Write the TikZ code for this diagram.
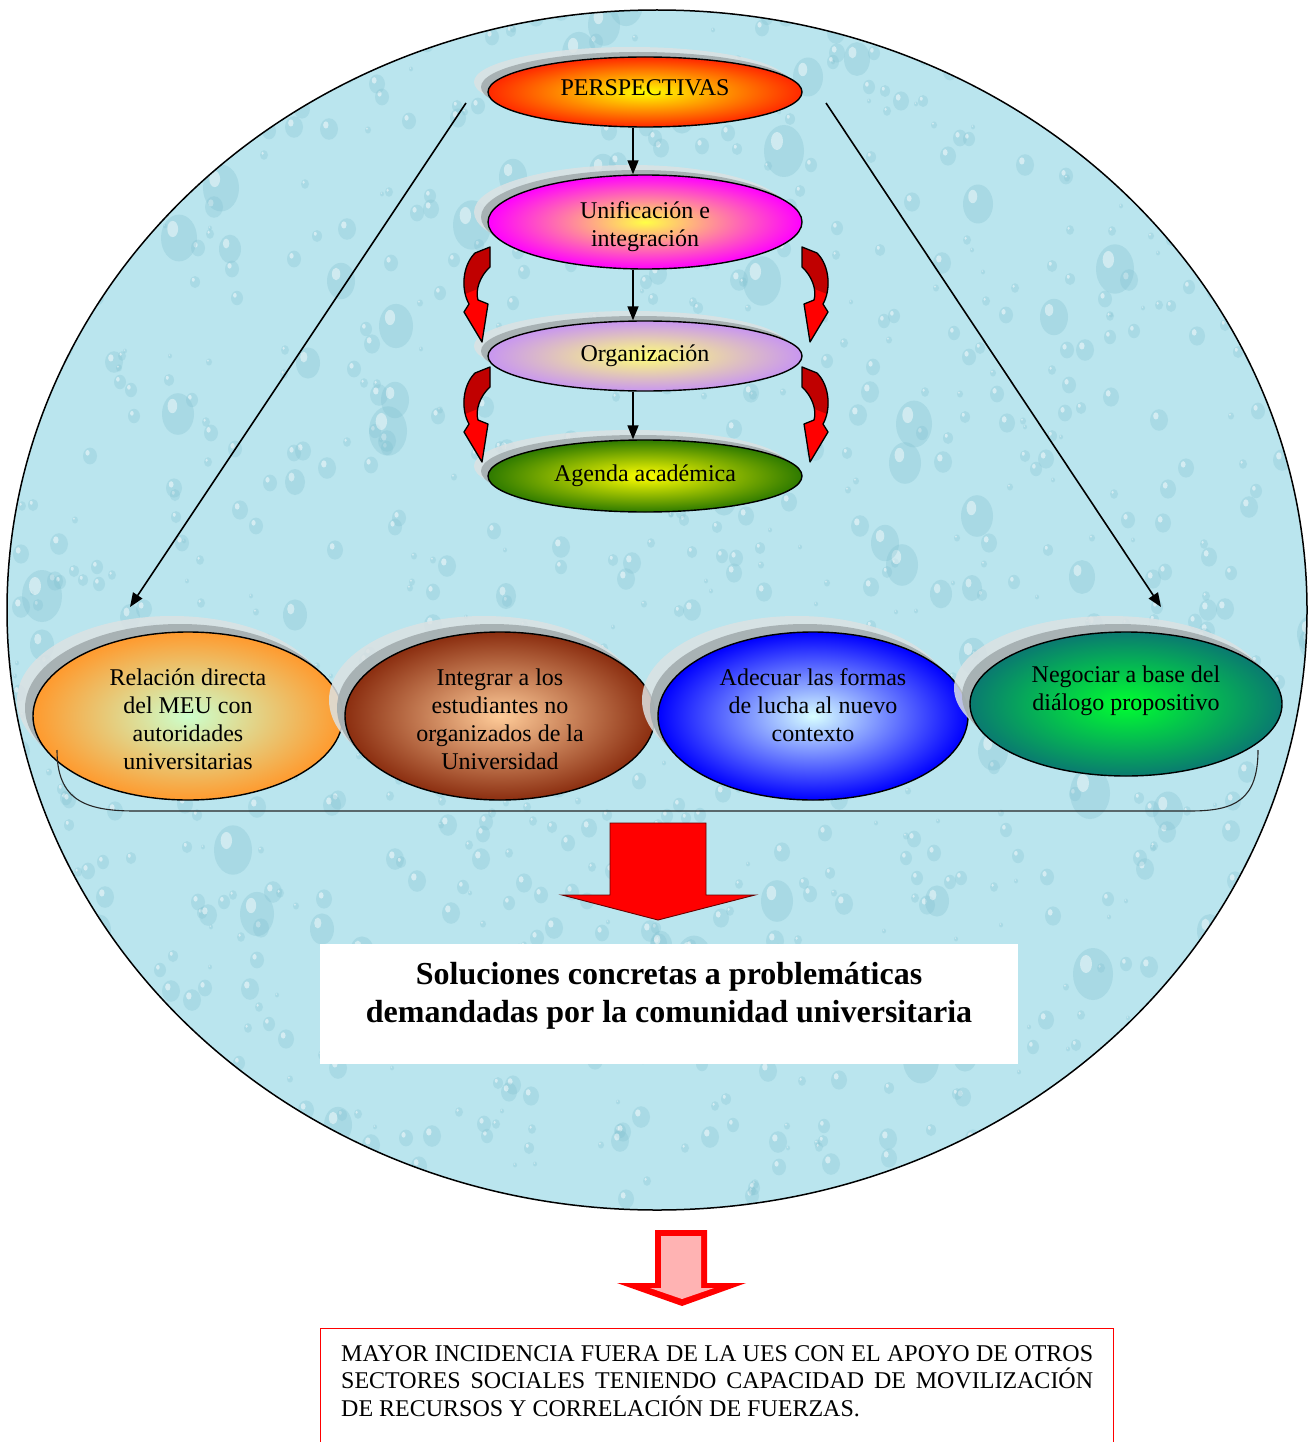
\documentclass[tikz,border=0pt]{standalone}
\usepackage{fontspec}
\setmainfont{Liberation Serif}
\usetikzlibrary{shapes.geometric,arrows.meta}
\definecolor{bgcyan}{HTML}{BAE5EE}
\definecolor{dropc}{HTML}{7FBFCF}
\definecolor{rimlight}{HTML}{DCE2E3}
\definecolor{rimdark}{HTML}{A3ADAF}
\definecolor{darkred}{HTML}{C00000}
\definecolor{pinkfill}{HTML}{FFB3B3}
\newcommand\rims[6]{%
  \fill[rimlight, opacity=.85] (#1-2*#5,#2-2*#6) ellipse [x radius=#3, y radius=#4];
  \fill[rimdark, opacity=.9] (#1-#5,#2-#6) ellipse [x radius=#3, y radius=#4];}
\newcommand\redcurve[1]{%
  \begin{scope}[#1]
    \fill[red] (475,253) -- (490,247) -- (490,267) .. controls (480,276) and (475,290) .. (478,300) -- (488,304) -- (482,342) -- (464,312) -- (469,304) .. controls (461,290) and (462,266) .. (475,253) -- cycle;
    \begin{scope}
      \clip (475,253) -- (490,247) -- (490,267) .. controls (480,276) and (475,290) .. (478,300) -- (488,304) -- (482,342) -- (464,312) -- (469,304) .. controls (461,290) and (462,266) .. (475,253) -- cycle;
      \fill[darkred] (455,240) -- (500,240) -- (500,280) -- (455,298) -- cycle;
    \end{scope}
    \draw[line width=1.3pt, line join=round] (475,253) -- (490,247) -- (490,267) .. controls (480,276) and (475,290) .. (478,300) -- (488,304) -- (482,342) -- (464,312) -- (469,304) .. controls (461,290) and (462,266) .. (475,253) -- cycle;
  \end{scope}}
\newcommand\tp[1]{\rule{0pt}{#1pt}}
\newcommand\bt[1]{\rule[-#1pt]{0pt}{#1pt}}
\begin{document}
\begin{tikzpicture}[x=1pt,y=-1pt,
  oval/.style={ellipse, draw, line width=1.4pt, inner sep=0pt, align=center,
    font=\fontsize{24}{28}\selectfont},
  arr/.style={line width=1.6pt, -{Triangle[length=14pt,width=11pt]}},
]
\useasboundingbox (0,0) rectangle (1312,1442);
% background disc with drops
\begin{scope}
  \clip (657,610) ellipse [x radius=650, y radius=600];
  \fill[bgcyan] (0,0) rectangle (1312,1220);
  \pgfmathsetseed{7}
  \foreach \i in {1,...,1000}{
    \pgfmathsetmacro\dx{random(0,1312)}
    \pgfmathsetmacro\dy{random(0,1215)}
    \pgfmathsetmacro\dr{random(2,9)}
    \fill[dropc, opacity=0.28] (\dx,\dy) ellipse [x radius=\dr, y radius=1.2*\dr];
    \fill[white, opacity=0.5] (\dx-0.35*\dr,\dy-0.45*\dr) ellipse [x radius=0.3*\dr, y radius=0.4*\dr];
  }
  \foreach \i in {1,...,90}{
    \pgfmathsetmacro\dx{random(0,1312)}
    \pgfmathsetmacro\dy{random(0,1215)}
    \pgfmathsetmacro\dr{random(10,20)}
    \fill[dropc, opacity=0.3] (\dx,\dy) ellipse [x radius=\dr, y radius=1.3*\dr];
    \fill[white, opacity=0.45] (\dx-0.35*\dr,\dy-0.5*\dr) ellipse [x radius=0.3*\dr, y radius=0.45*\dr];
  }
\end{scope}
\draw[line width=1.5pt] (657,610) ellipse [x radius=650, y radius=600];

% diagonal arrows
\coordinate (dl0) at (466,103);
\coordinate (dl1) at (130,607);
\coordinate (dr0) at (826,103);
\coordinate (dr1) at (1161,607);
\draw[arr] (dl0) -- (dl1);
\draw[arr] (dr0) -- (dr1);

% top stack
\rims{645}{92}{157}{35}{7}{5}
\node[oval, minimum width=314pt, minimum height=70pt, inner color=yellow,
  outer color={rgb,255:red,255;green,40;blue,0}] (persp) at (645,92) {PERSPECTIVAS\bt{8}};
\rims{645}{222}{157}{47}{7}{5}
\node[oval, minimum width=314pt, minimum height=94pt, inner color={rgb,255:red,255;green,255;blue,70},
  outer color={rgb,255:red,255;green,0;blue,255}] (unif) at (645,222) {\tp{26}Unificación e\\integración\bt{5}};
\rims{645}{356}{157}{35}{7}{5}
\node[oval, minimum width=314pt, minimum height=70pt, inner color={rgb,255:red,255;green,255;blue,120},
  outer color={rgb,255:red,200;green,150;blue,240}] (org) at (645,356) {Organización};
\rims{645}{476}{157}{36}{7}{5}
\node[oval, minimum width=314pt, minimum height=72pt, inner color=yellow,
  outer color={rgb,255:red,46;green,122;blue,0}] (agenda) at (645,476) {Agenda académica};

\draw[arr] ([xshift=-12pt]persp.south) -- ([xshift=-12pt]unif.north);
\draw[arr] ([xshift=-12pt]unif.south) -- ([xshift=-12pt]org.north);
\draw[arr] ([xshift=-12pt]org.south) -- ([xshift=-12pt]agenda.north);

% red curved arrows
\redcurve{}
\redcurve{shift={(0,120)}}
\redcurve{xshift=1292pt, xscale=-1}
\redcurve{shift={(0,120)}, xshift=1292pt, xscale=-1}

% bottom row
\rims{188}{716}{155}{84}{8}{8}
\node[oval, minimum width=310pt, minimum height=168pt, inner color={rgb,255:red,204;green,255;blue,204},
  outer color={rgb,255:red,255;green,154;blue,46}] (o1) at (188,716) {\tp{26}Relación directa\\del MEU con\\autoridades\\universitarias\bt{4}};
\rims{500}{716}{155}{84}{8}{8}
\node[oval, minimum width=310pt, minimum height=168pt, inner color={rgb,255:red,255;green,204;blue,153},
  outer color={rgb,255:red,139;green,46;blue,16}] (o2) at (500,716) {\tp{26}Integrar a los\\estudiantes no\\organizados de la\\Universidad\bt{4}};
\rims{813}{716}{155}{84}{8}{8}
\node[oval, minimum width=310pt, minimum height=168pt, inner color={rgb,255:red,216;green,255;blue,255},
  outer color={rgb,255:red,0;green,0;blue,255}] (o3) at (813,716) {\tp{17}Adecuar las formas\\de lucha al nuevo\\contexto\bt{23}};
\rims{1126}{704}{156}{72}{8}{8}
\node[oval, minimum width=312pt, minimum height=144pt, inner color={rgb,255:red,0;green,255;blue,48},
  outer color={rgb,255:red,10;green,122;blue,112}] (o4) at (1126,704) {\tp{17}Negociar a base del\\diálogo propositivo\bt{33}};

% bracket
\coordinate (bl) at (57,750);
\coordinate (br) at (1258,750);
\draw[line width=1.1pt, black!85] (bl) .. controls (57,800) and (85,811) .. (135,811) -- (1190,811) .. controls (1235,811) and (1258,800) .. (br);

% big red arrow
\fill[red, draw=black!60!red, line width=0.9pt, line join=miter] (610,823) -- (706,823) -- (706,895) -- (755,895) -- (658,920) -- (562,895) -- (610,895) -- cycle;

% white box
\node[fill=white, minimum width=698pt, minimum height=120pt, inner sep=0pt, anchor=north west] (solbox) at (320,944) {};
\node[font=\bfseries\fontsize{32}{38}\selectfont, align=center, inner sep=0pt] (soltext) at (669,996)
  {Soluciones concretas a problemáticas\\demandadas por la comunidad universitaria};

% pink arrow
\fill[red] (655,1230) -- (707,1230) -- (707,1283) -- (746,1283) -- (682,1306) -- (617,1283) -- (655,1283) -- cycle;
\fill[pinkfill] (661,1236) -- (701,1236) -- (701,1288) -- (714,1288) -- (682,1299) -- (650,1288) -- (661,1288) -- cycle;

% bottom box
\node[draw=red, line width=0.8pt, minimum width=793pt, minimum height=130pt, inner sep=0pt, anchor=north west] (mayorbox) at (320,1328) {};
\node[font=\fontsize{24}{27.5}\selectfont, text width=752pt, align=left, inner sep=0pt, anchor=north west] (mayortext) at (341,1345)
  {\makebox[752pt][s]{\spaceskip=.25em plus 1em minus .05em MAYOR INCIDENCIA FUERA DE LA UES CON EL APOYO DE OTROS}\\
   \makebox[752pt][s]{\spaceskip=.25em plus 1em minus .05em SECTORES SOCIALES TENIENDO CAPACIDAD DE MOVILIZACIÓN}\\
   {\spaceskip=.25em DE RECURSOS Y CORRELACIÓN DE FUERZAS.}};
\end{tikzpicture}
\end{document}
